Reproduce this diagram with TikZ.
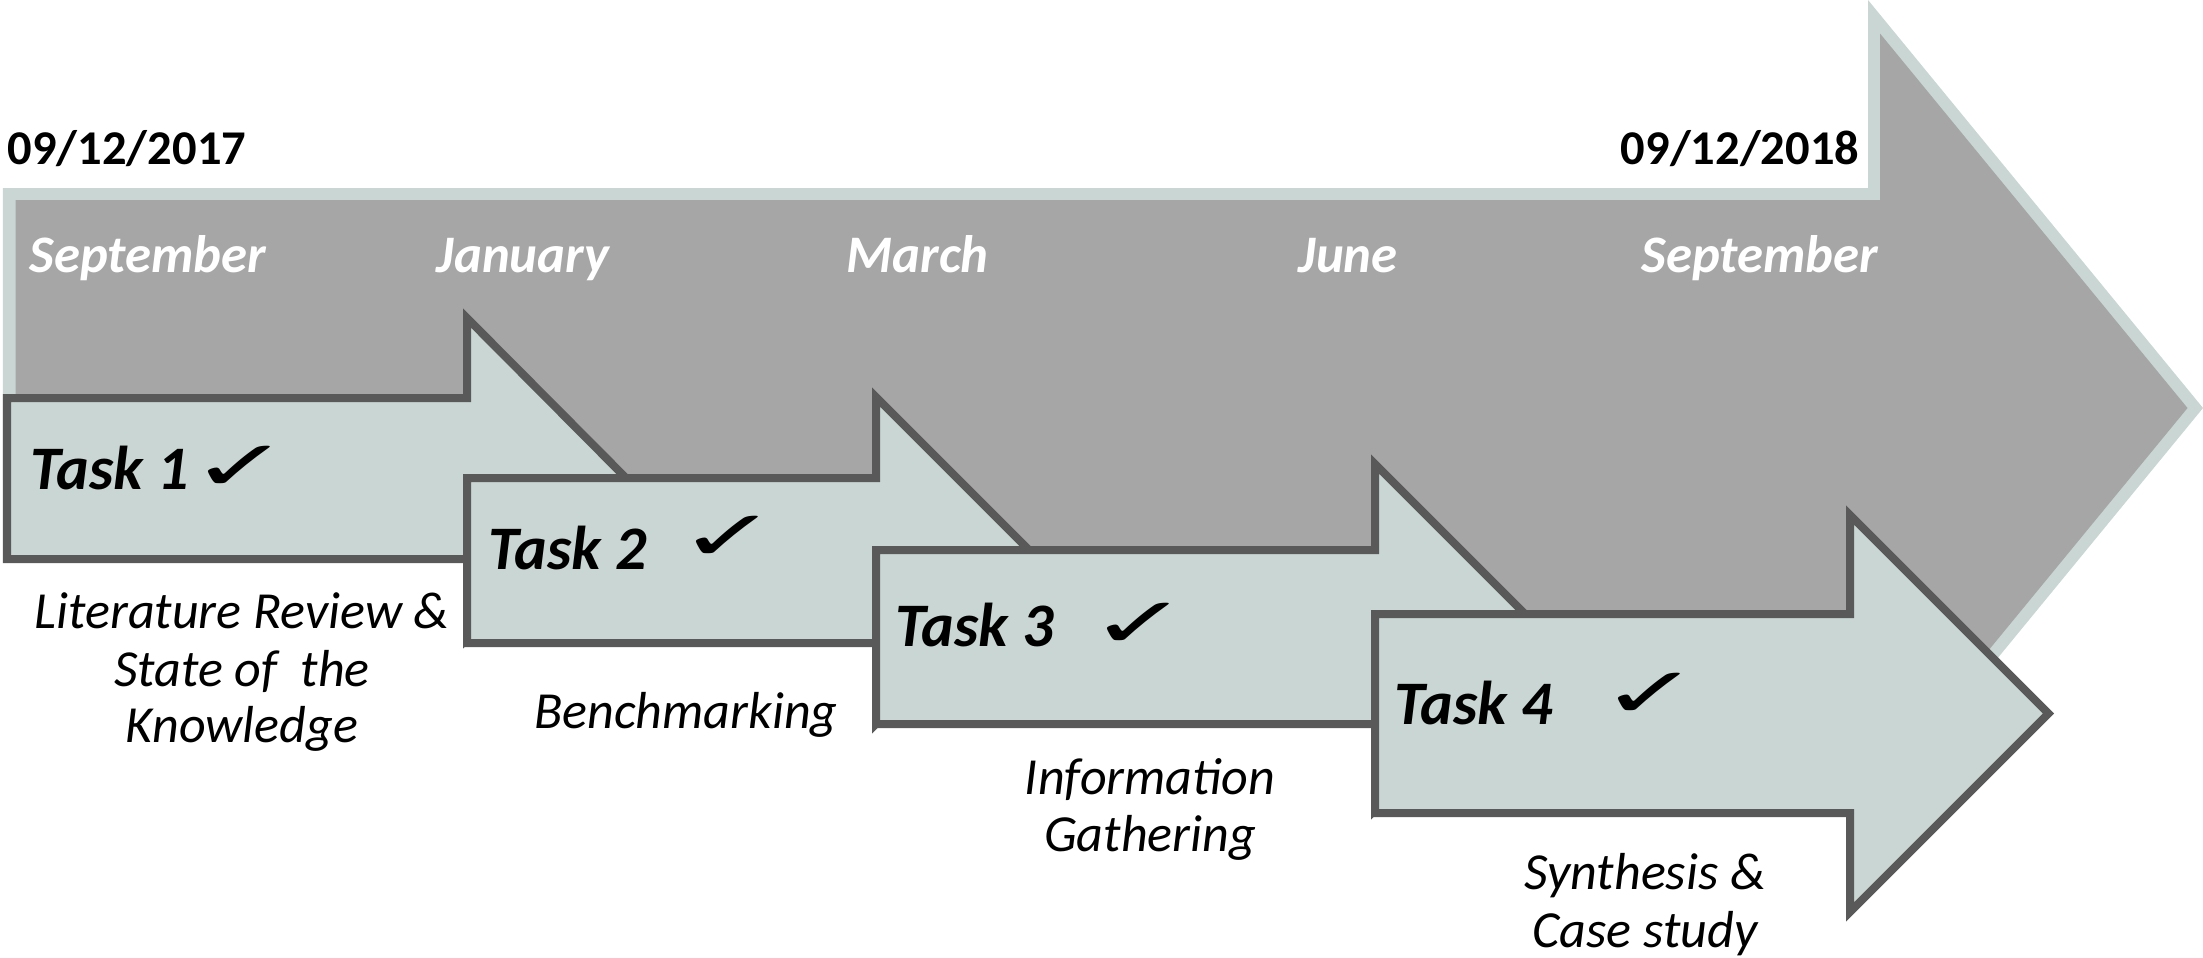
\documentclass[tikz,border=0pt]{standalone}
\usepackage{fontspec}
\usepackage{graphicx}
\setmainfont{Carlito}
\newfontfamily\symfont{DejaVu Sans}
\definecolor{sage}{RGB}{201,214,211}
\definecolor{shaft}{RGB}{166,166,166}
\definecolor{edge}{RGB}{89,89,89}
\newcommand{\donecheck}{\scalebox{1.7}[1]{✓}}
\begin{document}
\begin{tikzpicture}[x=0.01cm,y=-0.01cm,
  taskarrow/.style={fill=sage,draw=edge,line width=0.08cm,line join=miter},
  datelbl/.style={inner sep=0pt,font=\fontsize{13.8}{16}\selectfont\bfseries},
  monthlbl/.style={inner sep=0pt,text=white,anchor=base west,
    font=\fontsize{15}{18}\selectfont\bfseries\itshape},
  tasklbl/.style={inner sep=0pt,anchor=base west,
    font=\fontsize{17.6}{21}\selectfont\bfseries\itshape},
  desclbl/.style={inner sep=0pt,anchor=base,
    font=\fontsize{14.8}{17}\selectfont\itshape},
  donemark/.style={inner sep=0pt,font=\fontsize{20}{22}\symfont}]
\useasboundingbox (0,0) rectangle (2203,957);

% timeline arrow: light rim, grey body (lower edge runs under the task arrows)
\fill[sage] (3,188) -- (1868,188) -- (1868,0) -- (2203,408) -- (1868,816)
  -- (1500,700) -- (1000,640) -- (600,560) -- (100,480) -- (3,480) -- cycle;
\fill[shaft] (15.5,200) -- (1880,200) -- (1880,33.5) -- (2187.5,408) -- (1880,782.5)
  -- (1500,700) -- (1000,640) -- (600,560) -- (100,480) -- (15.5,480) -- cycle;

% dates
\node[datelbl,anchor=base west] (start) at (7,164) {09/12/2017};
\node[datelbl,anchor=base east] (end) at (1860,164) {09/12/2018};

% months
\node[monthlbl] (m1) at (29,272) {September};
\node[monthlbl] (m2) at (436,272) {January};
\node[monthlbl] (m3) at (846,272) {March};
\node[monthlbl] (m4) at (1298,272) {June};
\node[monthlbl] (m5) at (1641,272) {September};

% task arrows
\path[taskarrow] (7,398) -- (467,398) -- (467,318) -- (626.5,478.5) -- (467,639)
  -- (467,559) -- (7,559) -- cycle;
\path[taskarrow] (467,478) -- (876,478) -- (876,397) -- (1039.5,560.5) -- (876,724)
  -- (876,643) -- (467,643) -- cycle;
\path[taskarrow] (876,550) -- (1375,550) -- (1375,464) -- (1548,637) -- (1375,810)
  -- (1375,724) -- (876,724) -- cycle;
\path[taskarrow] (1375,614) -- (1850,614) -- (1850,515) -- (2048.5,713.5) -- (1850,912)
  -- (1850,813) -- (1375,813) -- cycle;

% task titles and check marks
\node[tasklbl] (t1) at (30,489) {Task 1};
\node[tasklbl] (t2) at (488,569) {Task 2};
\node[tasklbl] (t3) at (895,646) {Task 3};
\node[tasklbl] (t4) at (1394,724) {Task 4};
\node[donemark] (c1) at (241,468) {\donecheck};
\node[donemark] (c2) at (729,538) {\donecheck};
\node[donemark] (c3) at (1140,625) {\donecheck};
\node[donemark] (c4) at (1651,695) {\donecheck};

% task descriptions
\node[desclbl] (d1a) at (242,628) {Literature Review \&};
\node[desclbl] (d1b) at (242,686) {State of\ \ the};
\node[desclbl] (d1c) at (242,742) {Knowledge};
\node[desclbl] (d2) at (686,728) {Benchmarking};
\node[desclbl] (d3a) at (1150,794) {Information};
\node[desclbl] (d3b) at (1150,851) {Gathering};
\node[desclbl] (d4a) at (1645,889) {Synthesis \&};
\node[desclbl] (d4b) at (1645,947) {Case study};
\end{tikzpicture}
\end{document}
